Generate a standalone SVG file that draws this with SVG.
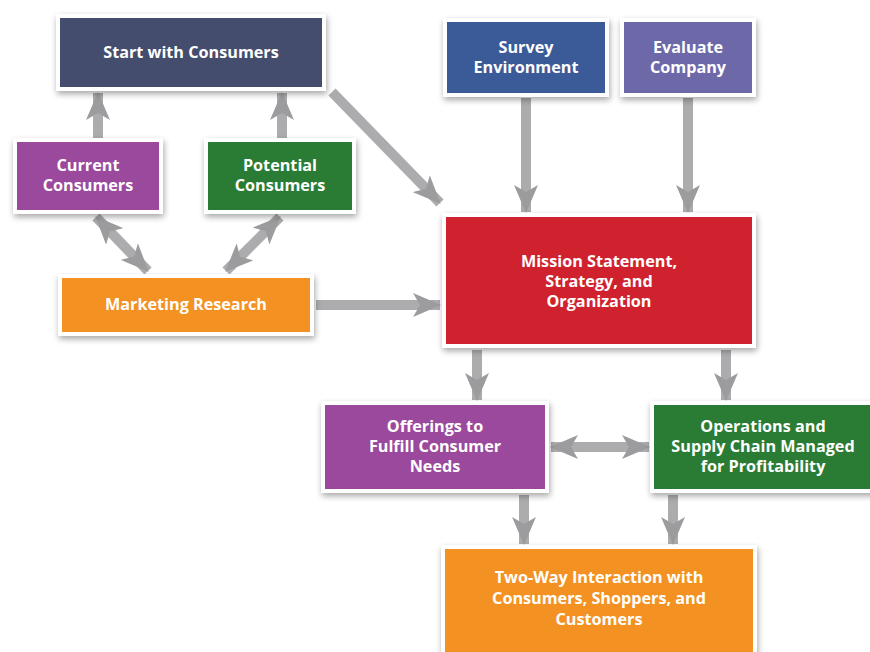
<svg xmlns="http://www.w3.org/2000/svg" width="870" height="652" viewBox="0 0 870 652">
<defs>
<filter id="sh" x="-10%" y="-10%" width="125%" height="130%">
<feGaussianBlur in="SourceAlpha" stdDeviation="3"/>
<feOffset dx="1" dy="3" result="b"/>
<feComponentTransfer><feFuncA type="linear" slope="0.35"/></feComponentTransfer>
<feMerge><feMergeNode/><feMergeNode in="SourceGraphic"/></feMerge>
</filter>
<marker id="ah" viewBox="0 0 28 24" refX="27" refY="12" markerWidth="28" markerHeight="24" markerUnits="userSpaceOnUse" orient="auto-start-reverse">
<path d="M0,0 L28,12 L0,24 L7,12 z" fill="#9c9c9e"/>
</marker>
</defs>
<style>
.box{stroke:#ffffff;stroke-width:4;filter:url(#sh)}
.t{font-family:"Open Sans","Noto Sans","Liberation Sans",sans-serif;font-weight:bold;font-size:16.2px;fill:#ffffff;text-anchor:middle}
.c{stroke:#acacae;stroke-width:10;fill:none;marker-end:url(#ah)}
.d{marker-start:url(#ah)}
</style>
<rect width="870" height="652" fill="#ffffff"/>
<g id="connectors">
<line class="c" x1="98" y1="138" x2="98" y2="93"/>
<line class="c" x1="282" y1="138" x2="282" y2="93"/>
<line class="c" x1="332" y1="92" x2="440" y2="203"/>
<line class="c" x1="526" y1="98" x2="526" y2="212"/>
<line class="c" x1="688" y1="98" x2="688" y2="212"/>
<line class="c d" x1="96" y1="217" x2="148" y2="271"/>
<line class="c d" x1="280" y1="217" x2="226" y2="271"/>
<line class="c" x1="316" y1="305" x2="440" y2="305"/>
<line class="c" x1="477" y1="350" x2="477" y2="400"/>
<line class="c" x1="726" y1="350" x2="726" y2="400"/>
<line class="c d" x1="551" y1="447" x2="649" y2="447"/>
<line class="c" x1="524" y1="495" x2="524" y2="544"/>
<line class="c" x1="673" y1="495" x2="673" y2="544"/>
</g>
<g id="start">
<rect class="box" x="58" y="16" width="266" height="73" fill="#454d6e"/>
<text class="t" x="191" y="58">Start with Consumers</text>
</g>
<g id="current">
<rect class="box" x="15" y="140" width="146" height="72" fill="#9a4a9d"/>
<text class="t" x="88" y="171">Current</text>
<text class="t" x="88" y="191">Consumers</text>
</g>
<g id="potential">
<rect class="box" x="206" y="140" width="148" height="72" fill="#2b7b36"/>
<text class="t" x="280" y="171">Potential</text>
<text class="t" x="280" y="191">Consumers</text>
</g>
<g id="marketing">
<rect class="box" x="60" y="276" width="252" height="58" fill="#f39223"/>
<text class="t" x="186" y="310">Marketing Research</text>
</g>
<g id="survey">
<rect class="box" x="445" y="20" width="162" height="75" fill="#3b5a98"/>
<text class="t" x="526" y="53">Survey</text>
<text class="t" x="526" y="73">Environment</text>
</g>
<g id="evaluate">
<rect class="box" x="622" y="20" width="132" height="75" fill="#6d69a8"/>
<text class="t" x="688" y="53">Evaluate</text>
<text class="t" x="688" y="73">Company</text>
</g>
<g id="mission">
<rect class="box" x="444" y="215" width="310" height="131" fill="#d0202d"/>
<text class="t" x="599" y="267">Mission Statement,</text>
<text class="t" x="599" y="287">Strategy, and</text>
<text class="t" x="599" y="307">Organization</text>
</g>
<g id="offerings">
<rect class="box" x="323" y="403" width="224" height="88" fill="#9a4a9d"/>
<text class="t" x="435" y="432">Offerings to</text>
<text class="t" x="435" y="452">Fulfill Consumer</text>
<text class="t" x="435" y="472">Needs</text>
</g>
<g id="operations">
<rect class="box" x="652" y="403" width="222" height="88" fill="#2b7b36"/>
<text class="t" x="763" y="432">Operations and</text>
<text class="t" x="763" y="452">Supply Chain Managed</text>
<text class="t" x="763" y="472">for Profitability</text>
</g>
<g id="twoway">
<rect class="box" x="443" y="547" width="312" height="110" fill="#f39223"/>
<text class="t" x="599" y="583">Two-Way Interaction with</text>
<text class="t" x="599" y="604">Consumers, Shoppers, and</text>
<text class="t" x="599" y="625">Customers</text>
</g>
</svg>
